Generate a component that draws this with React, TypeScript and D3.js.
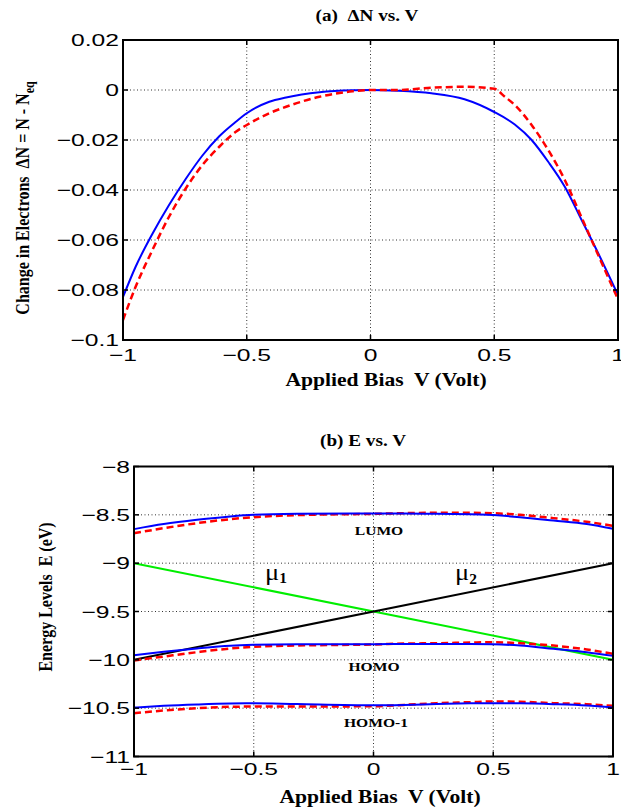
import React from "react";
import * as d3 from "d3";

// ---------- Panel (a): ΔN vs V ----------
const aBlueV = [-1, -0.949, -0.881, -0.814, -0.746, -0.679, -0.611, -0.544, -0.5, -0.409, -0.341, -0.206, -0.072, 0, 0.11, 0.246, 0.38, 0.5, 0.583, 0.651, 0.718, 0.785, 0.853, 0.92, 1];
const aBlueN = [-0.0828, -0.0707, -0.0575, -0.046, -0.0355, -0.0262, -0.0185, -0.0127, -0.0093, -0.0047, -0.003, -0.0009, -0.0001, 0, -0.0003, -0.0013, -0.0037, -0.0088, -0.0138, -0.02, -0.0287, -0.0387, -0.052, -0.0653, -0.082];
const aRedV = [-1, -0.949, -0.881, -0.814, -0.746, -0.679, -0.611, -0.544, -0.5, -0.409, -0.341, -0.206, -0.072, 0, 0.11, 0.246, 0.38, 0.5, 0.543, 0.583, 0.651, 0.718, 0.785, 0.853, 0.92, 1];
const aRedN = [-0.092, -0.0787, -0.064, -0.0507, -0.0393, -0.03, -0.0227, -0.0167, -0.014, -0.0093, -0.0067, -0.0027, -0.0005, 0, 0, 0.0009, 0.0013, 0.0005, -0.0027, -0.006, -0.014, -0.024, -0.036, -0.051, -0.066, -0.0837];

const aYTicks = [-0.1, -0.08, -0.06, -0.04, -0.02, 0, 0.02];
const aYLabels = ["\u22120.1", "\u22120.08", "\u22120.06", "\u22120.04", "\u22120.02", "0", "0.02"];
const xTicks = [-1, -0.5, 0, 0.5, 1];
const xLabels = ["\u22121", "\u22120.5", "0", "0.5", "1"];

// ---------- Panel (b): E vs V ----------
const bV = [-1, -0.876, -0.737, -0.598, -0.5, -0.32, 0, 0.126, 0.265, 0.404, 0.5, 0.612, 0.751, 0.89, 1];
const lumoBlue = [-8.648, -8.596, -8.552, -8.517, -8.5, -8.49, -8.486, -8.487, -8.49, -8.493, -8.503, -8.524, -8.559, -8.596, -8.645];
const lumoRed = [-8.69, -8.638, -8.586, -8.545, -8.524, -8.503, -8.49, -8.483, -8.479, -8.479, -8.483, -8.5, -8.534, -8.572, -8.614];
const homoBlue = [-9.952, -9.917, -9.883, -9.855, -9.845, -9.838, -9.838, -9.835, -9.835, -9.835, -9.838, -9.852, -9.886, -9.921, -9.959];
const homoRed = [-10.007, -9.966, -9.921, -9.883, -9.866, -9.852, -9.841, -9.832, -9.828, -9.821, -9.818, -9.828, -9.852, -9.893, -9.938];
const homo1Blue = [-10.494, -10.476, -10.462, -10.452, -10.45, -10.458, -10.47, -10.466, -10.457, -10.45, -10.448, -10.45, -10.459, -10.473, -10.494];
const homo1Red = [-10.552, -10.524, -10.5, -10.486, -10.483, -10.483, -10.48, -10.466, -10.448, -10.438, -10.431, -10.434, -10.448, -10.459, -10.476];
const muV = [-1, 1];
const mu1E = [-9, -10];
const mu2E = [-10, -9];

const bYTicks = [-11, -10.5, -10, -9.5, -9, -8.5, -8];
const bYLabels = ["\u221211", "\u221210.5", "\u221210", "\u22129.5", "\u22129", "\u22128.5", "\u22128"];

const SERIF = "'Liberation Serif', 'Times New Roman', serif";
const SANS = "'Liberation Sans', Arial, sans-serif";
const SX_SANS = 1.45;
const SX_SERIF = 1.2;

type TP = {
  x: number; y: number; size: number; family?: string; weight?: string | number;
  anchor?: "start" | "middle" | "end"; sx?: number; rotate?: number; children: React.ReactNode;
};
function T({ x, y, size, family = SERIF, weight = "bold", anchor = "middle", sx = SX_SERIF, rotate, children }: TP) {
  const tr = `translate(${x},${y}) scale(${sx},1)` + (rotate ? ` rotate(${rotate})` : "");
  return (
    <text transform={tr} fontSize={size} fontFamily={family} fontWeight={weight} textAnchor={anchor} fill="#000" style={{ whiteSpace: "pre" }}>
      {children}
    </text>
  );
}

type Series = { v: number[]; e: number[]; color: string; dash?: string; width: number };

function Panel({
  x, y, yTicks, yLabels, series, tickDY,
}: {
  x: d3.ScaleLinear<number, number>; y: d3.ScaleLinear<number, number>;
  yTicks: number[]; yLabels: string[]; series: Series[]; tickDY: number;
}) {
  const [x0, x1] = x.range();
  const [y0, y1] = y.range(); // y0 bottom, y1 top
  const tl = 5;
  const line = (s: Series) =>
    d3.line<number>().x((_, i) => x(s.v[i])).y((d) => y(d)).curve(d3.curveMonotoneX)(s.e) || "";
  return (
    <g>
      {/* grid */}
      {xTicks.slice(1, -1).map((t) => (
        <line key={"gx" + t} x1={x(t)} x2={x(t)} y1={y1} y2={y0} stroke="#333" strokeWidth={1} strokeDasharray="1,2.5" />
      ))}
      {yTicks.slice(1, -1).map((t) => (
        <line key={"gy" + t} x1={x0} x2={x1} y1={y(t)} y2={y(t)} stroke="#333" strokeWidth={1} strokeDasharray="1,2.5" />
      ))}
      {/* curves */}
      {series.map((s, i) => (
        <path key={i} d={line(s)} fill="none" stroke={s.color} strokeWidth={s.width} strokeDasharray={s.dash} />
      ))}
      {/* ticks */}
      {xTicks.map((t) => (
        <g key={"tx" + t}>
          <line x1={x(t)} x2={x(t)} y1={y0} y2={y0 - tl} stroke="#000" strokeWidth={1.5} />
          <line x1={x(t)} x2={x(t)} y1={y1} y2={y1 + tl} stroke="#000" strokeWidth={1.5} />
        </g>
      ))}
      {yTicks.map((t) => (
        <g key={"ty" + t}>
          <line x1={x0} x2={x0 + tl} y1={y(t)} y2={y(t)} stroke="#000" strokeWidth={1.5} />
          <line x1={x1} x2={x1 - tl} y1={y(t)} y2={y(t)} stroke="#000" strokeWidth={1.5} />
        </g>
      ))}
      {/* box */}
      <rect x={x0} y={y1} width={x1 - x0} height={y0 - y1} fill="none" stroke="#000" strokeWidth={2} />
      {/* tick labels */}
      {yTicks.map((t, i) => (
        <T key={"ly" + t} x={x0 - 4} y={y(t) + 6} size={17} family={SANS} weight="normal" anchor="end" sx={SX_SANS}>
          {yLabels[i]}
        </T>
      ))}
      {xTicks.map((t, i) => (
        <T key={"lx" + t} x={x(t)} y={y0 + tickDY} size={17} family={SANS} weight="normal" anchor="middle" sx={SX_SANS}>
          {xLabels[i]}
        </T>
      ))}
    </g>
  );
}

export default function App() {
  const xA = d3.scaleLinear().domain([-1, 1]).range([123, 618]);
  const yA = d3.scaleLinear().domain([-0.1, 0.02]).range([340, 40]);
  const xB = d3.scaleLinear().domain([-1, 1]).range([134, 613]);
  const yB = d3.scaleLinear().domain([-11, -8]).range([756.5, 466.5]);

  const seriesA: Series[] = [
    { v: aBlueV, e: aBlueN, color: "#0000ff", width: 2 },
    { v: aRedV, e: aRedN, color: "#ff0000", width: 2.5, dash: "7,4" },
  ];
  const seriesB: Series[] = [
    { v: muV, e: mu1E, color: "#00ee00", width: 2 },
    { v: muV, e: mu2E, color: "#000000", width: 2 },
    { v: bV, e: lumoRed, color: "#ff0000", width: 2.5, dash: "7,4" },
    { v: bV, e: homoRed, color: "#ff0000", width: 2.5, dash: "7,4" },
    { v: bV, e: homo1Red, color: "#ff0000", width: 2.5, dash: "7,4" },
    { v: bV, e: lumoBlue, color: "#0000ff", width: 2 },
    { v: bV, e: homoBlue, color: "#0000ff", width: 2 },
    { v: bV, e: homo1Blue, color: "#0000ff", width: 2 },
  ];

  return (
    <svg width={621} height={810} style={{ position: "absolute", left: 0, top: 0, background: "#fff" }}>
      <rect x={0} y={0} width={621} height={810} fill="#fff" />
      {/* Panel (a) */}
      <T x={367} y={21} size={16}>
        {"(a)  \u0394N vs. V"}
      </T>
      <Panel x={xA} y={yA} yTicks={aYTicks} yLabels={aYLabels} series={seriesA} tickDY={21} />
      <T x={386} y={386} size={18}>
        {"Applied Bias  V (Volt)"}
      </T>
      <T x={29} y={198} size={16} rotate={-90}>
        {"Change in Electrons  \u0394N = N - N"}
        <tspan fontSize={12} dy={4}>eq</tspan>
      </T>

      {/* Panel (b) */}
      <T x={363} y={446} size={16}>
        {"(b) E vs. V"}
      </T>
      <Panel x={xB} y={yB} yTicks={bYTicks} yLabels={bYLabels} series={seriesB} tickDY={18} />
      <T x={380} y={803} size={18}>
        {"Applied Bias  V (Volt)"}
      </T>
      <T x={52} y={597} size={16} rotate={-90}>
        {"Energy Levels  E (eV)"}
      </T>
      <T x={379} y={535} size={13}>LUMO</T>
      <T x={374} y={671} size={13}>HOMO</T>
      <T x={376} y={727} size={13}>HOMO-1</T>
      <T x={265} y={580} size={24} weight="normal" anchor="start" sx={1.1}>
        {"\u03bc"}
        <tspan fontSize={14} fontWeight="bold" dy={3}>1</tspan>
      </T>
      <T x={455} y={580} size={24} weight="normal" anchor="start" sx={1.1}>
        {"\u03bc"}
        <tspan fontSize={14} fontWeight="bold" dy={4}>2</tspan>
      </T>
    </svg>
  );
}
